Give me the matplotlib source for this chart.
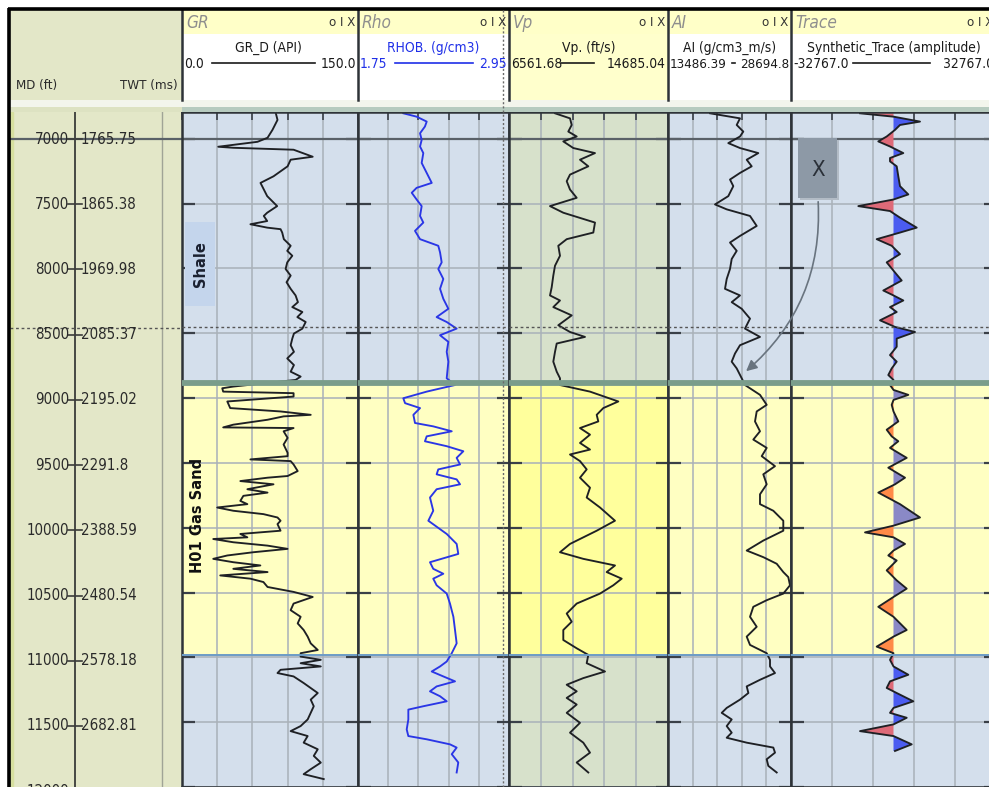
import numpy as np
import matplotlib
matplotlib.use('Agg')
import matplotlib.pyplot as plt
from matplotlib.patches import Rectangle, FancyArrowPatch
from matplotlib import font_manager

# ------------------------------------------------------------------ data
md_ticks = [7000, 7500, 8000, 8500, 9000, 9500, 10000, 10500, 11000, 11500, 12000]
twt_labels = ['1765.75', '1865.38', '1969.98', '2085.37', '2195.02', '2291.8',
              '2388.59', '2480.54', '2578.18', '2682.81', '']

sand_top = 8880
sand_base = 10980

track_names = ['GR', 'Rho', 'Vp', 'AI', 'Trace']
curve_labels = ['GR_D (API)', 'RHOB. (g/cm3)', 'Vp. (ft/s)', 'AI (g/cm3_m/s)',
                'Synthetic_Trace (amplitude)']
scale_lo = [0.0, 1.75, 6561.68, 13486.39, -32767.0]
scale_hi = [150.0, 2.95, 14685.04, 28694.8, 32767.0]
scale_lo_txt = ['0.0', '1.75', '6561.68', '13486.39', '-32767.0']
scale_hi_txt = ['150.0', '2.95', '14685.04', '28694.8', '32767.0']

gr_depth = [6793, 6854, 6931, 6992, 7023, 7061, 7069, 7084, 7138, 7161, 7212, 7289,
            7340, 7391, 7442, 7493, 7519, 7570, 7595, 7634, 7659, 7685, 7697, 7723,
            7774, 7825, 7864, 7902, 7953, 8004, 8055, 8106, 8157, 8208, 8260, 8298,
            8336, 8375, 8413, 8464, 8502, 8541, 8592, 8643, 8694, 8745, 8796, 8834,
            8860,
            8911, 8924, 8950, 8962, 8988, 9026, 9077, 9103, 9129, 9141, 9167, 9205,
            9226, 9231, 9256, 9307, 9358, 9422, 9448, 9473, 9486, 9512, 9563, 9601,
            9614, 9640, 9665, 9703, 9729, 9754, 9793, 9818, 9844, 9869, 9895, 9921,
            9946, 9972, 10023, 10048, 10074, 10087, 10112, 10138, 10163, 10189,
            10214, 10240, 10266, 10291, 10317, 10342, 10368, 10393, 10419, 10457,
            10495, 10534, 10585, 10636, 10687, 10738, 10789, 10840, 10892, 10943,
            10968,
            10994, 11019, 11045, 11070, 11096, 11121, 11147, 11198, 11236, 11275,
            11326, 11377, 11428, 11479, 11530, 11569, 11607, 11658, 11709, 11760,
            11812, 11863, 11901, 11939]
gr_value = [79.7, 81.4, 77.1, 72.9, 64.3, 30.9, 43.7, 95.1, 111.4, 92.6, 90.0, 78.0,
            66.9, 69.7, 72.6, 78.2, 81.1, 72.6, 69.7, 72.6, 58.3, 72.6, 84.0, 85.4,
            86.8, 92.6, 89.7, 94.0, 89.7, 88.3, 92.6, 89.1, 92.6, 96.8, 98.8, 94.0,
            102.6, 98.3, 105.4, 102.6, 95.4, 94.0, 92.6, 95.4, 89.7, 95.4, 92.6, 101.1,
            96.8,
            43.7, 34.3, 35.1, 95.1, 95.1, 38.6, 41.1, 84.0, 109.7, 86.6, 72.9, 43.7,
            35.1, 95.1, 86.6, 90.0, 86.6, 90.0, 90.0, 58.3, 92.6, 95.1, 98.6, 90.0,
            72.9, 49.7, 78.0, 55.7, 72.9, 52.3, 49.7, 55.7, 30.0, 43.7, 69.4, 81.4,
            84.0, 81.4, 84.0, 49.7, 55.7, 26.6, 43.7, 72.9, 90.0, 60.8,
            38.6, 26.6, 43.7, 66.8, 43.7, 72.9, 32.6, 58.3, 69.4, 72.9,
            95.1, 111.4, 95.1, 92.6, 101.1, 98.6, 103.7, 107.1, 109.7, 115.7,
            101.1,
            101.1, 118.3, 101.1, 118.3, 84.0, 81.4, 95.1, 103.7, 109.7, 115.7,
            109.7, 112.3, 109.7, 107.1, 101.1, 92.6, 107.1, 103.7, 115.7, 112.3,
            118.3, 109.7, 103.7, 120.8]

rho_depth = [6803, 6829, 6867, 6905, 6957, 7008, 7059, 7110, 7186, 7263, 7340, 7378,
             7416, 7468, 7519, 7595, 7646, 7710, 7774, 7825, 7876, 7953, 8004, 8081,
             8157, 8234, 8311, 8375, 8413, 8464, 8515, 8566, 8643, 8719, 8847,
             8899, 8950, 9001, 9039, 9077, 9129, 9192, 9218, 9256, 9295, 9333, 9371,
             9410, 9461, 9512, 9550, 9588, 9627, 9665, 9703, 9767, 9869, 9946, 10048,
             10125, 10202, 10266, 10317, 10355, 10393, 10444, 10508, 10585, 10687,
             10789, 10892, 10968, 11032, 11070, 11109, 11147, 11185, 11224, 11262,
             11300, 11339, 11377, 11403, 11479, 11556, 11607, 11632, 11671, 11696,
             11747, 11811, 11888]
rho_value = [2.110, 2.216, 2.296, 2.282, 2.243, 2.256, 2.243, 2.269, 2.256, 2.296,
             2.336, 2.216, 2.177, 2.216, 2.256, 2.243, 2.269, 2.203, 2.243, 2.388,
             2.402, 2.415, 2.388, 2.428, 2.402, 2.428, 2.468, 2.375, 2.455, 2.534,
             2.402, 2.468, 2.455, 2.468, 2.455,
             2.521, 2.296, 2.110, 2.124, 2.243, 2.190, 2.203, 2.348, 2.495, 2.296,
             2.282, 2.455, 2.587, 2.534, 2.561, 2.388, 2.375, 2.534, 2.561, 2.375,
             2.322, 2.348, 2.309, 2.455, 2.534, 2.547, 2.322, 2.348, 2.428, 2.348,
             2.375, 2.455, 2.481, 2.508, 2.521, 2.534, 2.495, 2.455, 2.402, 2.336,
             2.428, 2.521, 2.375, 2.322, 2.402, 2.455, 2.269, 2.150, 2.150, 2.137,
             2.150, 2.296, 2.481, 2.534, 2.495, 2.547, 2.534]

vp_depth = [6803, 6842, 6893, 6944, 6982, 7020, 7071, 7110, 7161, 7212, 7276, 7327,
            7391, 7455, 7519, 7570, 7646, 7723, 7774, 7825, 7902, 7979, 8055, 8145,
            8208, 8247, 8298, 8362, 8438, 8490, 8528, 8579, 8643, 8719, 8796, 8847,
            8899, 8950, 9026, 9077, 9129, 9180, 9231, 9282, 9346, 9397, 9435, 9486,
            9550, 9614, 9691, 9767, 9844, 9946, 10023, 10125, 10189, 10240, 10291,
            10342, 10393, 10444, 10508, 10585, 10662, 10725, 10789, 10866, 10930,
            10981, 11045, 11109, 11160, 11211, 11262, 11313, 11364, 11428, 11505,
            11581, 11658, 11735, 11811, 11888]
vp_value = [8912, 9678, 9765, 9591, 10020, 9336, 9847, 10955, 10189, 10613, 9678, 9510,
            9678, 10020, 8656, 9336, 10955, 10869, 9510, 9080, 9167, 8912, 8825, 8743,
            8656, 9167, 8825, 9765, 9080, 9678, 10444, 8999, 8912, 8825, 8999, 9167,
            9167, 10700, 12146, 11379, 11042, 11124, 10189, 10700, 10189, 10700, 9678,
            10189, 10531, 10189, 10700, 10531, 11211, 11977, 11042, 9678, 9167, 10357,
            11977, 11553, 12319, 11890, 11211, 10020, 9510, 9765, 9336, 9336, 10020,
            10613, 10531, 11466, 10357, 9510, 10020, 9510, 10020, 9510, 10189, 9678,
            10357, 10700, 10020, 10613]

ai_depth = [6803, 6842, 6893, 6944, 6982, 7033, 7071, 7110, 7161, 7212, 7263, 7314,
            7365, 7442, 7506, 7544, 7595, 7672, 7749, 7800, 7864, 7927, 8004, 8081,
            8157, 8208, 8260, 8311, 8387, 8464, 8528, 8592, 8656, 8719, 8771, 8847,
            8899, 8975, 9052, 9103, 9180, 9256, 9320, 9384, 9448, 9525, 9588, 9665,
            9742, 9818, 9869, 9946, 10023, 10099, 10176, 10227, 10278, 10342, 10381,
            10444, 10508, 10559, 10610, 10687, 10764, 10840, 10904, 10968, 11019,
            11070, 11121, 11173, 11224, 11275, 11326, 11390, 11428, 11479, 11530,
            11581, 11620, 11658, 11696, 11735, 11786, 11837, 11888]
ai_value = [18680, 22389, 21981, 22797, 22389, 20942, 22389, 24652, 23218, 23836,
            22389, 21153, 21561, 20942, 19298, 20745, 23626, 24454, 22389, 21153,
            21981, 21363, 21153, 20745, 20534, 22389, 21363, 22599, 23626, 23007,
            24862, 22389, 21771, 21363, 21981, 22599,
            23007, 24862, 25690, 24454, 24244, 24862, 24034, 25690, 25072, 26717,
            25270, 25690, 24862, 24862, 26507, 27743, 27743, 25270, 23218, 25270,
            26927, 27743, 28361, 28571, 27743, 25690, 24034, 23626, 24454, 23218,
            23626, 25690, 26098, 26098, 26717, 24862, 23218, 23424, 22389, 20745,
            20127, 21363, 20745, 21363, 20745, 23218, 26507, 26717, 25690, 25888,
            26927]

trace_depth = [6803, 6829, 6867, 6893, 6931, 6982, 7020, 7059, 7110, 7148, 7174, 7212,
               7289, 7365, 7429, 7468, 7519, 7557, 7608, 7685, 7723, 7774, 7825, 7889,
               7953, 8017, 8093, 8170, 8208, 8247, 8298, 8336, 8400, 8451, 8490, 8541,
               8604, 8668, 8719, 8771, 8822, 8860,
               8899, 8937, 8975, 9014, 9052, 9103, 9180, 9244, 9295, 9333, 9384, 9461,
               9537, 9614, 9665, 9729, 9818, 9921, 9984, 10036, 10074, 10125, 10176,
               10214, 10253, 10329, 10406, 10470, 10534, 10610, 10687, 10789, 10840,
               10917, 10968, 11019, 11070, 11134, 11185, 11236, 11275, 11339, 11390,
               11428, 11466, 11517, 11569, 11607, 11671, 11722]
trace_amp = [-10710, 0, 8472, 2078, 480, -2174, -4859, -1119, 3133, -1119, -1119, 1023,
             1535, 2078, 4732, 0, -11253, -1119, 2078, 7417, 2078, -5371, -575, 2078,
             -2174, 0, 2622, -3261, 0, 3133, -1119, 1023, -4316, 480, 6874, 1023,
             1023, -1119, 1023, -575, -1662, 0,
             -1119, 0, 4732, 0, -575, 0, 1535, -2174, -575, 1535, -1119, 4220,
             -1662, 3677, 480, -4859, 2078, 8472, 0, -9111, 0, 3677, 0,
             -1662, 1023, -2174, 1023, 4220, 0, -4859, 0, 4220, 0,
             -5371, 0, -1119, 0, 4732, -1119, -2174, 1023, 6330, 0,
             -1119, 4220, 0, -10710, 0, 5819, 480]

x_callout = 'X'

# ------------------------------------------------------------------ fonts
def pick_narrow_font():
    fl = font_manager.fontManager.ttflist
    for f in fl:
        if f.name == 'Liberation Sans Narrow':
            return 'Liberation Sans Narrow', 'normal', 1.0
    for f in fl:
        fn = f.fname.replace('\\', '/').split('/')[-1]
        if fn == 'DejaVuSansCondensed.ttf':
            return 'DejaVu Sans', f.stretch, 0.456 / 0.572
    return 'Liberation Sans', 'normal', 0.82


NARROW, STRETCH, FK = pick_narrow_font()
plt.rcParams['font.family'] = [NARROW, 'DejaVu Sans']
plt.rcParams['font.stretch'] = STRETCH


def fs(size):
    return size * FK


# ------------------------------------------------------------------ layout
W, H = 989, 787
fig = plt.figure(figsize=(W / 100, H / 100), dpi=100)
fig.patch.set_facecolor('white')

D_TOP, D_BOT = 6793, 11968
PLOT_TOP = 112


def px_axes(x0, x1, y0=PLOT_TOP, y1=H):
    return fig.add_axes([x0 / W, 1 - y1 / H, (x1 - x0) / W, (y1 - y0) / H])


track_px = [(182, 358), (358, 509), (509, 668), (668, 791), (791, 996)]
curve_colors = ['#1e2024', '#2a36e6', '#1e2024', '#1e2024', '#1e2024']
label_colors = ['#1a1a1a', '#1f2fe8', '#1a1a1a', '#1a1a1a', '#1a1a1a']
shale_bg = ['#d4dfec', '#d4dfec', '#d7e1cb', '#d4dfec', '#d4dfec']
sand_bg = ['#ffffc2', '#ffffc2', '#ffff9c', '#ffffc2', '#ffffc2']
series = [(gr_depth, gr_value), (rho_depth, rho_value), (vp_depth, vp_value),
          (ai_depth, ai_value), (trace_depth, trace_amp)]

# depth column
dax = px_axes(10, 182)
dax.set_xlim(10, 182)
dax.set_ylim(D_BOT, D_TOP)
dax.set_facecolor('#e3e7c8')
for s in dax.spines.values():
    s.set_visible(False)
dax.set_xticks([])
dax.set_yticks([])
dax.axvspan(10, 13, color='#d6df9f', zorder=0.5)
dax.axvline(75, color='#3a3c3a', lw=1.3)
dax.axvline(162, color='#a0a496', lw=1.0)
dax.axhline(7000, color='#5a6168', lw=1.6)
dax.axhline(8450, color='#555555', lw=1.0, ls=(0, (2, 2)))
for md, twt in zip(md_ticks, twt_labels):
    dax.plot([68, 82], [md, md], color='#3a3c3a', lw=1.2)
    dax.text(69, md, str(md), ha='right', va='center', fontsize=fs(13.6), color='#2a2a2a')
    if twt:
        dax.text(81, md, twt, ha='left', va='center', fontsize=fs(13.6), color='#2a2a2a')

# tracks
axes = []
for i, (x0, x1) in enumerate(track_px):
    ax = px_axes(x0, x1)
    axes.append(ax)
    lo, hi = scale_lo[i], scale_hi[i]
    ax.set_xlim(lo, hi)
    ax.set_ylim(D_BOT, D_TOP)
    ax.set_facecolor(shale_bg[i])
    ax.axhspan(D_TOP, sand_top, color=shale_bg[i], zorder=0.1, lw=0)
    ax.axhspan(sand_top, sand_base, color=sand_bg[i], zorder=0.1, lw=0)
    ax.axhspan(sand_base, D_BOT, color=shale_bg[i], zorder=0.1, lw=0)
    ax.set_xticks(np.linspace(lo, hi, 6))
    ax.set_yticks(md_ticks)
    ax.set_axisbelow(True)
    ax.grid(True, color='#a9b1b9', lw=1.3, alpha=0.85)
    ax.tick_params(axis='x', top=True, bottom=False, direction='in', length=6,
                   width=1.2, color='#3a4048', labeltop=False, labelbottom=False)
    ax.tick_params(axis='y', left=True, right=True, direction='in', length=9,
                   width=1.6, color='#3a4048', labelleft=False, labelright=False)
    for s in ax.spines.values():
        s.set_color('#2e3338')
        s.set_linewidth(1.8)
    ax.axhline(7000, color='#5a6168', lw=1.6, zorder=1.6)
    d, v = series[i]
    if i == 4:
        d_arr = np.array(d, float)
        v_arr = np.array(v, float)
        fills = [
            (D_TOP, sand_top, '#4b5cf0', '#de6a78'),
            (sand_top, sand_base, '#8a89c6', '#ff8a48'),
            (sand_base, D_BOT, '#4b5cf0', '#de6a78'),
        ]
        for za, zb, cpos, cneg in fills:
            for cond, col in ((v_arr >= 0, cpos), (v_arr <= 0, cneg)):
                poly = ax.fill_betweenx(d_arr, 0, v_arr, where=cond, interpolate=True,
                                        color=col, lw=0, zorder=1.8)
                poly.set_clip_path(Rectangle((lo, za), hi - lo, zb - za,
                                             transform=ax.transData))
    ax.plot(v, d, color=curve_colors[i], lw=1.35, zorder=2)
    ax.axhline(sand_top, color='#7a9d8b', lw=4.2, zorder=3)
    ax.axhline(sand_base, color='#6c9cc6', lw=1.4, zorder=3)
    ax.axhline(8450, color='#555555', lw=1.0, ls=(0, (2, 2)), zorder=4)

# annotations inside GR track
gax = axes[0]
gax.add_patch(Rectangle((2.6, 7644), 25.7, 644, facecolor='#c4d5ec', edgecolor='none',
                        zorder=1.9))
gax.text(15.4, 7966, 'Shale', rotation=90, ha='center', va='center', fontsize=10.5,
         fontweight='bold', color='#1a2030', family='DejaVu Sans', fontstretch='normal',
         zorder=5)
gax.text(12.9, 9905, 'H01 Gas Sand', rotation=90, ha='center', va='center',
         fontsize=10.5, fontweight='bold', color='#101010', family='DejaVu Sans',
         fontstretch='normal', zorder=5)

# ------------------------------------------------------------------ overlay (header etc.)
ov = fig.add_axes([0, 0, 1, 1], zorder=10)
ov.set_xlim(0, W)
ov.set_ylim(H, 0)
ov.axis('off')

# header band
ov.add_patch(Rectangle((10, 10), 172, 90, facecolor='#e3e7c8', edgecolor='none'))
ov.add_patch(Rectangle((10, 100), 979, 12, facecolor='#f3f5ec', edgecolor='none'))
ov.add_patch(Rectangle((182, 107), 807, 5, facecolor='#b7cbbf', edgecolor='none'))
ov.add_patch(Rectangle((10, 107), 172, 5, facecolor='#dde2c2', edgecolor='none'))
ov.text(16, 85, 'MD (ft)', ha='left', va='center', fontsize=fs(12), color='#2a2a2a')
ov.text(178, 85, 'TWT (ms)', ha='right', va='center', fontsize=fs(12), color='#2a2a2a')

line_spans = [(212, 315), (395, 473), (561, 594), (732, 735), (853, 930)]
name_x = [268, 433, 589, 730, 894]
for i, (x0, x1) in enumerate(track_px):
    lower = '#ffffcc' if i == 2 else 'white'
    ov.add_patch(Rectangle((x0, 10), x1 - x0, 24, facecolor='#ffffc8', edgecolor='none'))
    ov.add_patch(Rectangle((x0, 34), x1 - x0, 66, facecolor=lower, edgecolor='none'))
    ov.plot([x0, x0], [10, 100], color='#2e3338', lw=1.8)
    ov.text(x0 + 4, 23, track_names[i], ha='left', va='center', fontsize=fs(15.5),
            style='italic', color='#8e8e8e')
    ov.text(x1 - 3, 23, 'o I X', ha='right', va='center', fontsize=fs(12), color='#333333')
    c = label_colors[i]
    lab_fs = fs(12.0) if i == 3 else fs(12.4)
    ov.text(name_x[i], 48, curve_labels[i], ha='center', va='center', fontsize=fs(12.4),
            color=c)
    ov.text(x0 + 2, 64, scale_lo_txt[i], ha='left', va='center', fontsize=lab_fs, color=c)
    ov.text(x1 - 2, 64, scale_hi_txt[i], ha='right', va='center', fontsize=lab_fs, color=c)
    lx0, lx1 = line_spans[i]
    ov.plot([lx0, lx1], [63, 63], color=c, lw=1.2)

# frame
ov.plot([9, 9], [8, H], color='black', lw=2.6, solid_capstyle='butt')
ov.plot([8, W], [9, 9], color='black', lw=2.6, solid_capstyle='butt')

# cursor dotted vertical
ov.plot([503, 503], [10, H], color='#6a6a6a', lw=1.0, ls=(0, (1.5, 1.5)))

# callout X
ov.add_patch(Rectangle((800, 140), 39, 60, facecolor='#b3bcc6', edgecolor='none'))
ov.add_patch(Rectangle((798, 138), 39, 60, facecolor='#8d99a6', edgecolor='none'))
ov.text(818, 170, x_callout, ha='center', va='center', fontsize=fs(20), color='#2a3038')
ov.add_patch(FancyArrowPatch((818, 199), (744, 373), connectionstyle='arc3,rad=-0.25',
                             arrowstyle='-|>', mutation_scale=16, color='#69747f',
                             lw=1.2))

fig.savefig('out.png', dpi=100)
